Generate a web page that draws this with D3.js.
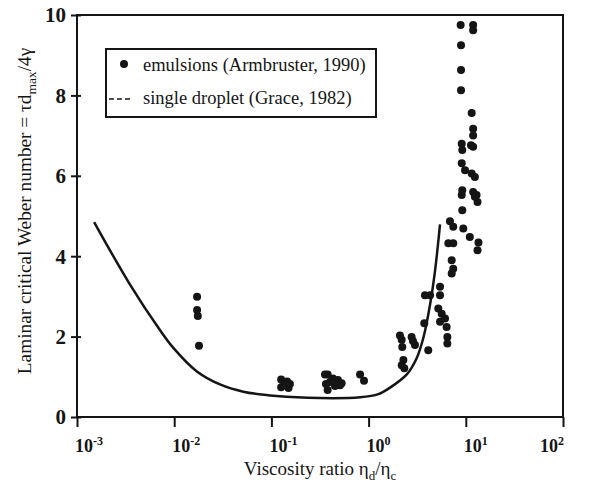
<!DOCTYPE html>
<html>
<head>
<meta charset="utf-8">
<script src="https://cdn.jsdelivr.net/npm/d3@7"></script>
<style>
  body { margin: 0; background: #fff; }
  svg { display: block; font-family: "Liberation Serif", "DejaVu Serif", serif; }
</style>
</head>
<body>
<div id="chart"></div>
<script>
// Dades llegides del gràfic: emulsions (Armbruster, 1990)
const emulsionX = [
  0.0172, 0.0172, 0.0175, 0.018,
  0.126, 0.145, 0.126, 0.15, 0.135, 0.155,
  0.356, 0.379, 0.43, 0.484, 0.508, 0.364, 0.379, 0.451, 0.401, 0.528,
  0.817, 0.897,
  2.10, 2.19, 2.22, 2.28, 2.33, 2.19, 2.77, 3.0, 2.86, 3.74, 4.11,
  3.80, 4.29, 5.43, 5.43, 5.21, 5.65, 5.43, 6.11, 6.35, 6.46, 6.46,
  8.85, 11.9, 11.9, 8.93, 8.93, 8.93, 11.5, 11.9, 11.9, 9.08, 9.2,
  11.3, 11.9, 9.08, 9.82, 11.5, 12.4, 9.2, 9.08, 11.9, 12.9, 13.2,
  12.4, 9.2, 6.87, 7.43, 9.42, 11.0, 13.5, 13.2, 6.61, 7.43, 7.16,
  7.43, 7.16
];
const emulsionY = [
  2.99, 2.66, 2.51, 1.77,
  0.93, 0.88, 0.74, 0.72, 0.79, 0.82,
  1.06, 1.06, 0.96, 0.92, 0.79, 0.82, 0.67, 0.77, 0.87, 0.84,
  1.06, 0.90,
  2.03, 1.92, 1.74, 1.42, 1.21, 1.29, 1.99, 1.79, 1.89, 2.33, 1.66,
  3.03, 3.03, 3.24, 3.03, 2.70, 2.57, 2.37, 2.45, 2.24, 1.99, 1.83,
  9.75, 9.75, 9.62, 9.25, 8.63, 8.13, 7.56, 7.17, 7.0, 6.8, 6.64,
  6.76, 6.72, 6.31, 6.14, 6.06, 5.97, 5.64, 5.52, 5.6, 5.52, 5.35,
  5.48, 5.14, 4.87, 4.73, 4.69, 4.48, 4.34, 4.15, 4.32, 4.32, 3.9,
  3.69, 3.57
];

// Gota única (Grace, 1982)
const dropletX = [0.0015, 0.0035, 0.0071, 0.0098, 0.017, 0.0296, 0.0514, 0.113,
  0.316, 0.817, 1.26, 1.66, 2.47, 3.13, 3.66, 4.29, 4.82, 5.43];
const dropletY = [4.85, 3.3, 2.17, 1.72, 1.14, 0.81, 0.63, 0.52,
  0.47, 0.49, 0.57, 0.73, 1.06, 1.47, 1.97, 2.8, 3.63, 4.79];

// Etiquetes dels eixos
const xTickValues = [1e-3, 1e-2, 1e-1, 1e0, 1e1, 1e2];
const xTickExp = ['-3', '-2', '-1', '0', '1', '2'];
const yTickValues = [0, 2, 4, 6, 8, 10];

const legendLabels = ['emulsions (Armbruster, 1990)', 'single droplet (Grace, 1982)'];

const W = 606, H = 488;
const margin = { top: 15, right: 43, bottom: 71, left: 77 };
const width = W - margin.left - margin.right;
const height = H - margin.top - margin.bottom;
const ink = '#151515';

const svg = d3.select('#chart').append('svg')
  .attr('width', W)
  .attr('height', H);

const g = svg.append('g')
  .attr('transform', `translate(${margin.left},${margin.top})`);

const x = d3.scaleLog().domain([1e-3, 1e2]).range([0, width]);
const y = d3.scaleLinear().domain([0, 10]).range([height, 0]);

// Marc
g.append('rect')
  .attr('width', width)
  .attr('height', height)
  .attr('fill', 'none')
  .attr('stroke', ink)
  .attr('stroke-width', 2);

// Eix X
const xAxis = g.append('g')
  .attr('transform', `translate(0,${height})`)
  .call(d3.axisBottom(x).tickValues(xTickValues).tickSizeOuter(0).tickSize(10).tickFormat(''));
xAxis.select('.domain').remove();
xAxis.selectAll('.tick line').attr('stroke', ink).attr('stroke-width', 2);

const xLabels = g.append('g').selectAll('text')
  .data(xTickValues)
  .join('text')
  .attr('x', (d, i) => i === xTickValues.length - 1 ? x(d) + 1 : x(d) - 2)
  .attr('y', height + 35)
  .attr('text-anchor', (d, i) => i === xTickValues.length - 1 ? 'end' : 'start')
  .attr('font-size', 18)
  .attr('font-weight', 'bold')
  .attr('fill', ink);
xLabels.append('tspan').text('10');
xLabels.append('tspan')
  .attr('dy', -7)
  .attr('font-size', 12)
  .text((d, i) => xTickExp[i]);

// Eix Y
const yAxis = g.append('g')
  .call(d3.axisLeft(y).tickValues(yTickValues).tickSizeOuter(0).tickSize(6).tickFormat(''));
yAxis.select('.domain').remove();
yAxis.selectAll('.tick line').attr('x1', 4).attr('stroke', ink).attr('stroke-width', 2);

g.append('g').selectAll('text')
  .data(yTickValues)
  .join('text')
  .attr('x', -11)
  .attr('y', d => y(d))
  .attr('dy', '0.35em')
  .attr('text-anchor', 'end')
  .attr('font-size', 21)
  .attr('font-weight', 'bold')
  .attr('fill', ink)
  .text(d => d);

// Títols dels eixos
const xTitle = svg.append('text')
  .attr('x', 320)
  .attr('y', 475)
  .attr('text-anchor', 'middle')
  .attr('font-size', 19)
  .attr('fill', ink);
xTitle.append('tspan').text('Viscosity ratio η');
xTitle.append('tspan').attr('dy', 5).attr('font-size', 13).text('d');
xTitle.append('tspan').attr('dy', -5).text('/η');
xTitle.append('tspan').attr('dy', 5).attr('font-size', 13).text('c');

const yTitle = svg.append('text')
  .attr('transform', 'translate(31,211) rotate(-90)')
  .attr('text-anchor', 'middle')
  .attr('font-size', 19.3)
  .attr('fill', ink);
yTitle.append('tspan').text('Laminar critical Weber number = τd');
yTitle.append('tspan').attr('dy', 5).attr('font-size', 13.5).text('max');
yTitle.append('tspan').attr('dy', -5).text('/4γ');

// Corba de la gota única
const line = d3.line()
  .x(d => x(d[0]))
  .y(d => y(d[1]))
  .curve(d3.curveCatmullRom.alpha(0.5));

g.append('path')
  .datum(dropletX.map((d, i) => [d, dropletY[i]]))
  .attr('fill', 'none')
  .attr('stroke', ink)
  .attr('stroke-width', 2.5)
  .attr('d', line);

// Punts de les emulsions
g.append('g').selectAll('circle')
  .data(emulsionX.map((d, i) => [d, emulsionY[i]]))
  .join('circle')
  .attr('cx', d => x(d[0]))
  .attr('cy', d => y(d[1]))
  .attr('r', 4)
  .attr('fill', ink);

// Llegenda
const legend = svg.append('g').attr('transform', 'translate(106,49)');
legend.append('rect')
  .attr('width', 270)
  .attr('height', 68)
  .attr('fill', '#fff')
  .attr('stroke', ink)
  .attr('stroke-width', 2);
legend.append('circle')
  .attr('cx', 18).attr('cy', 15).attr('r', 4)
  .attr('fill', ink);
legend.append('line')
  .attr('x1', 3).attr('x2', 27)
  .attr('y1', 50).attr('y2', 50)
  .attr('stroke', ink)
  .attr('stroke-width', 1.6)
  .attr('stroke-dasharray', '5,3');
legend.selectAll('text.lab')
  .data(legendLabels)
  .join('text')
  .attr('class', 'lab')
  .attr('x', 37)
  .attr('y', (d, i) => 22 + i * 33)
  .attr('font-size', 18.5)
  .attr('fill', ink)
  .text(d => d);
</script>
</body>
</html>
